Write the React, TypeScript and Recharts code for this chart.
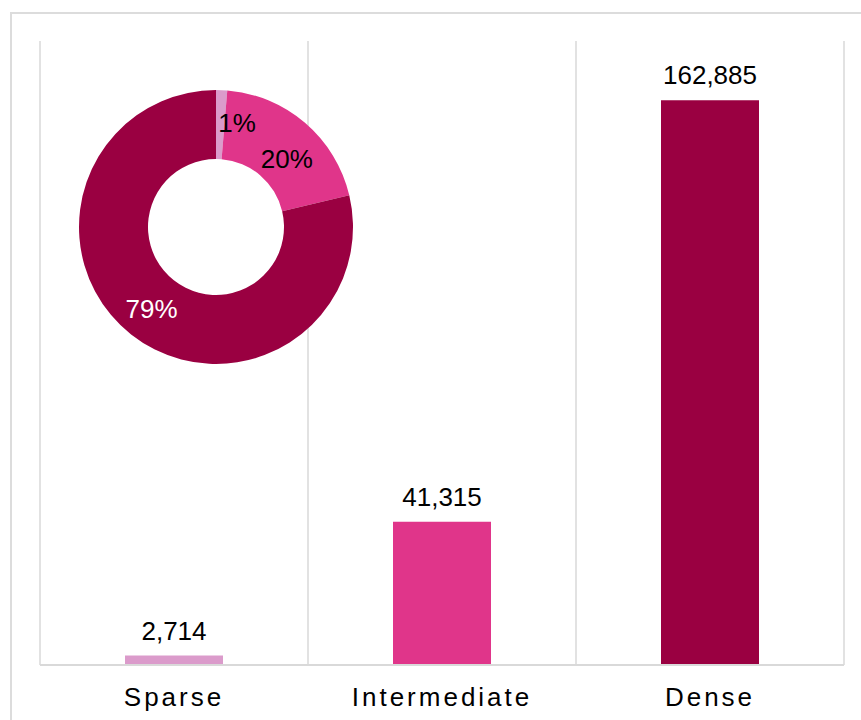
import { BarChart, Bar, XAxis, YAxis, CartesianGrid, Cell, LabelList, PieChart, Pie } from "recharts";

const categories = ["Sparse", "Intermediate", "Dense"];
const counts = [2714, 41315, 162885];
const colors = ["#DB9BCB", "#E0358A", "#9A0041"];
const yMax = 180000;

const data = categories.map((name, i) => ({ name, count: counts[i] }));

const FONT = "'Liberation Sans', Arial, sans-serif";
const RADIAN = Math.PI / 180;

// small nudges so the donut labels sit where the original puts them
const labelNudge = [
  { dx: -2, dy: 0, anchor: "start" },
  { dx: 3, dy: 11, anchor: "middle" },
  { dx: 0, dy: 0, anchor: "middle" },
];
const labelFill = ["#000", "#000", "#fff"];

const renderDonutLabel = (props: any) => {
  const { cx, cy, midAngle, percent, index } = props;
  const r = 104;
  const n = labelNudge[index];
  const x = cx + r * Math.cos(-midAngle * RADIAN) + n.dx;
  const y = cy + r * Math.sin(-midAngle * RADIAN) + n.dy;
  return (
    <text
      x={x}
      y={y}
      fill={labelFill[index]}
      fontSize={26}
      fontFamily={FONT}
      textAnchor={n.anchor}
      dominantBaseline="central"
    >
      {`${Math.round(percent * 100)}%`}
    </text>
  );
};

export default function App() {
  return (
    <div style={{ position: "absolute", left: 0, top: 0, width: 861, height: 720, overflow: "hidden", background: "#fff", fontFamily: FONT }}>
      <div
        style={{
          position: "absolute",
          left: 10,
          top: 12,
          width: 900,
          height: 800,
          border: "2px solid #dcdcdc",
          boxSizing: "border-box",
        }}
      />
      <div style={{ position: "absolute", left: 0, top: 0 }}>
        <BarChart width={861} height={720} data={data} margin={{ top: 41, right: 17, left: 40, bottom: 0 }}>
          <CartesianGrid
            horizontal={false}
            stroke="#d9d9d9"
            strokeWidth={1.5}
            verticalCoordinatesGenerator={({ offset }: any) =>
              [0, 1, 2, 3].map((i) => offset.left + (i * offset.width) / 3)
            }
          />
          <XAxis
            dataKey="name"
            height={55}
            axisLine={{ stroke: "#d9d9d9", strokeWidth: 2 }}
            tickLine={false}
            tickMargin={17}
            interval={0}
            tick={{ fill: "#000", fontSize: 26, fontFamily: FONT, letterSpacing: 3 }}
          />
          <YAxis hide domain={[0, yMax]} />
          <Bar dataKey="count" barSize={98} isAnimationActive={false}>
            {data.map((d, i) => (
              <Cell key={d.name} fill={colors[i]} />
            ))}
            <LabelList
              dataKey="count"
              position="top"
              offset={16}
              fill="#000"
              fontSize={26}
              fontFamily={FONT}
              formatter={(v: any) => Number(v).toLocaleString("en-US")}
            />
          </Bar>
        </BarChart>
      </div>
      <div style={{ position: "absolute", left: 66, top: 77 }}>
        <PieChart width={300} height={300} margin={{ top: 0, right: 0, bottom: 0, left: 0 }}>
          <Pie
            data={data}
            dataKey="count"
            nameKey="name"
            cx={150}
            cy={150}
            innerRadius={68}
            outerRadius={137}
            startAngle={90}
            endAngle={-270}
            stroke="none"
            label={renderDonutLabel}
            labelLine={false}
            isAnimationActive={false}
          >
            {data.map((d, i) => (
              <Cell key={d.name} fill={colors[i]} />
            ))}
          </Pie>
        </PieChart>
      </div>
    </div>
  );
}
